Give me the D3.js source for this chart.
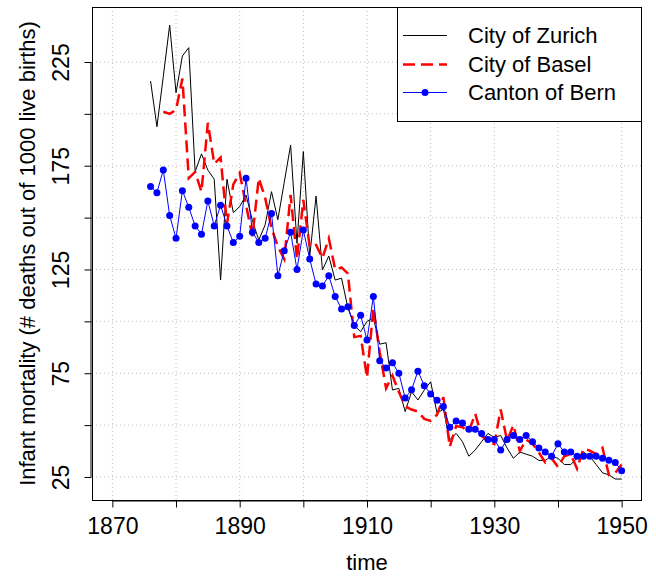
<!DOCTYPE html>
<html>
<head>
<meta charset="utf-8">
<script src="https://cdn.jsdelivr.net/npm/d3@7"></script>
<style>
  body { margin: 0; background: #fff; }
  text { font-family: "Liberation Sans", Arial, sans-serif; fill: #000; }
</style>
</head>
<body>
<svg id="chart" width="656" height="576"></svg>
<script>
// infant mortality, deaths per 1000 live births
var zurichStart = 1876,
  zurich = [215.8, 193.8, 218, 242.8, 210.2, 227.9, 231.9, 172.1, 180.7, 172.9,
    168.5, 119.9, 168.5, 152.4, 155.3, 160.9, 148.5, 139.2, 146.5, 162.5,
    149, 167, 185, 137.6, 181.8, 131.2, 160.4, 124.8, 131.5, 119.9,
    120.8, 106.5, 98, 95, 100, 101.5, 89, 89.7, 66.9, 67.7,
    56.5, 66.1, 62.1, 66.9, 70.9, 55.8, 57.6, 43, 46, 42,
    35, 38, 42, 46, 44, 45, 39, 34, 37, 36,
    35, 33, 33, 35, 34, 31, 31, 34, 37, 35,
    31, 27, 26, 24, 24];

var baselStart = 1878,
  basel = [201, 200, 202, 217, 169, 172, 162.5, 195.7, 176, 179,
    147, 166, 171.5, 156, 141, 169, 159.5, 145, 136, 130,
    161, 130, 158.5, 136, 136.8, 130.5, 140, 125, 126, 123,
    92.4, 93, 73, 106.5, 85, 67.7, 73.9, 66, 59, 57.5,
    56.5, 53, 52, 55, 63.5, 39.5, 49.5, 49, 47, 55.5,
    44.8, 42.5, 40.8, 57.5, 42.5, 50, 37.5, 43, 41, 36.8,
    32, 34, 29.8, 35, 36, 29, 38.6, 37.7, 36, 39,
    26, 27, 31];

var bernStart = 1876,
  bern = [165, 162, 173, 151, 140, 163, 155, 146, 142, 158,
    146, 156, 146, 138, 141, 169, 143, 138, 140, 152,
    122, 134, 143, 125, 144, 130, 118, 117, 122, 112,
    106, 107, 98, 103, 91, 112, 81, 77.5, 80, 75,
    63, 67, 76, 69, 65, 62, 59, 49, 52, 51,
    48, 48, 46, 43, 43, 38, 43, 45, 43, 45,
    42, 39, 37, 35, 41, 37, 37, 35, 35, 35,
    35, 34, 33, 32, 28];

var xTicks = [1870, 1880, 1890, 1900, 1910, 1920, 1930, 1940, 1950],
  xLabels = [1870, 1890, 1910, 1930, 1950],
  yTicks = [25, 50, 75, 100, 125, 150, 175, 200, 225],
  yLabels = [25, 75, 125, 175, 225];

var seriesNames = ["City of Zurich", "City of Basel", "Canton of Bern"];

function toPoints(start, values) {
  return values.map(function(v, i) { return { year: start + i, value: v }; });
}

var svg = d3.select("#chart"),
  plotLeft = 92, plotRight = 642, plotTop = 7, plotBottom = 500;

var x = d3.scaleLinear().domain([1866.8, 1953.2]).range([plotLeft, plotRight]);
var y = d3.scaleLinear().domain([13.9, 251.5]).range([plotBottom, plotTop]);

// dotted grid
svg.append("g").selectAll("line").data(xTicks).join("line")
  .attr("x1", d => x(d)).attr("x2", d => x(d))
  .attr("y1", plotTop).attr("y2", plotBottom)
  .attr("stroke", "#bbb").attr("stroke-dasharray", "1,3");
svg.append("g").selectAll("line").data(yTicks).join("line")
  .attr("y1", d => y(d)).attr("y2", d => y(d))
  .attr("x1", plotLeft).attr("x2", plotRight)
  .attr("stroke", "#bbb").attr("stroke-dasharray", "1,3");

// axes
var xAxis = d3.axisBottom(x).tickValues(xTicks).tickSize(7).tickPadding(9)
  .tickFormat(d => xLabels.indexOf(d) >= 0 ? d : "");
var gx = svg.append("g").attr("transform", "translate(0," + (plotBottom + 0.5) + ")").call(xAxis);
gx.select(".domain").attr("d", "M" + x(1870) + ",0.5H" + x(1950));
gx.selectAll("text").style("font-size", "23px").attr("dy", "0.75em");

var yAxis = d3.axisLeft(y).tickValues(yTicks).tickSize(7)
  .tickFormat(d => yLabels.indexOf(d) >= 0 ? d : "");
var gy = svg.append("g").attr("transform", "translate(" + (plotLeft - 0.5) + ",0)").call(yAxis);
gy.select(".domain").attr("d", "M-0.5," + y(25) + "V" + y(225));
// tick groups are already translated to y(d)
gy.selectAll("text")
  .style("font-size", "23px")
  .attr("text-anchor", "middle")
  .attr("transform", "translate(-31,0) rotate(-90)")
  .attr("x", 0).attr("y", 0).attr("dy", "0.36em");

// plot box
svg.append("rect")
  .attr("x", plotLeft + 0.5).attr("y", plotTop + 0.5)
  .attr("width", plotRight - plotLeft - 1).attr("height", plotBottom - plotTop)
  .attr("fill", "none").attr("stroke", "#000");

var line = d3.line().x(d => x(d.year)).y(d => y(d.value));

svg.append("path").datum(toPoints(zurichStart, zurich))
  .attr("d", line).attr("fill", "none").attr("stroke", "#000").attr("stroke-width", 1);

svg.append("path").datum(toPoints(baselStart, basel))
  .attr("d", line).attr("fill", "none").attr("stroke", "#ff0000")
  .attr("stroke-width", 2.5).attr("stroke-dasharray", "12,6");

var bernPts = toPoints(bernStart, bern);
svg.append("path").datum(bernPts)
  .attr("d", line).attr("fill", "none").attr("stroke", "#0000ff").attr("stroke-width", 1);
svg.append("g").selectAll("circle").data(bernPts).join("circle")
  .attr("cx", d => x(d.year)).attr("cy", d => y(d.value))
  .attr("r", 3.5).attr("fill", "#0000ff");

// axis titles
svg.append("text")
  .attr("x", (plotLeft + plotRight) / 2).attr("y", 570)
  .attr("text-anchor", "middle").style("font-size", "22px")
  .text("time");
svg.append("text")
  .attr("transform", "translate(35," + ((plotTop + plotBottom) / 2) + ") rotate(-90)")
  .attr("text-anchor", "middle").style("font-size", "22px")
  .text("Infant mortality (# deaths out of 1000 live births)");

// legend
var legend = svg.append("g");
legend.append("rect")
  .attr("x", 397.5).attr("y", plotTop + 0.5).attr("width", plotRight - 397.5 - 0.5).attr("height", 114)
  .attr("fill", "#fff").attr("stroke", "#000");
var rowY = [35, 64, 92];
var styles = [
  { color: "#000", width: 1, dash: null },
  { color: "#ff0000", width: 2.5, dash: "12,6" },
  { color: "#0000ff", width: 1, dash: null }
];
seriesNames.forEach(function(name, i) {
  legend.append("line")
    .attr("x1", 403).attr("x2", 447).attr("y1", rowY[i] + 0.5).attr("y2", rowY[i] + 0.5)
    .attr("stroke", styles[i].color).attr("stroke-width", styles[i].width)
    .attr("stroke-dasharray", styles[i].dash);
  if (i == 2) {
    legend.append("circle").attr("cx", 425).attr("cy", rowY[i] + 0.5).attr("r", 3.5).attr("fill", "#0000ff");
  }
  legend.append("text")
    .attr("x", 468).attr("y", rowY[i]).attr("dy", "0.36em")
    .style("font-size", "22px")
    .text(name);
});
</script>
</body>
</html>
